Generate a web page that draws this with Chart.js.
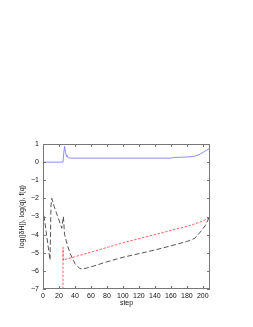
<!DOCTYPE html>
<html>
<head>
<meta charset="utf-8">
<script src="https://cdn.jsdelivr.net/npm/chart.js@4"></script>
<style>
  html, body { margin: 0; padding: 0; background: #fff; }
  #wrap { width: 253px; height: 327px; }
</style>
</head>
<body>
<div id="wrap"><canvas id="c" width="253" height="327"></canvas></div>
<script>
// values
const blueSteps = [0, 25, 26, 27, 28, 29, 30, 32, 35, 40, 60, 100, 140, 160, 165, 180, 190, 197, 202, 207, 209];
const blueVals  = [0, 0, 0.5, 0.87, 0.6, 0.38, 0.3, 0.24, 0.22, 0.22, 0.22, 0.22, 0.22, 0.22, 0.26, 0.28, 0.33, 0.45, 0.58, 0.72, 0.78];

const blackSteps = [0, 2, 4, 6, 8.8, 9.5, 10, 11, 14, 18, 22, 23.5, 25.5, 27, 30, 34, 40, 46, 50, 60, 80, 100, 120, 140, 160, 180, 190, 197, 203, 207, 209];
const blackVals  = [-2.55, -3.2, -3.85, -4.5, -5.4, -3.7, -2.4, -2.0, -2.45, -2.95, -3.45, -3.65, -3.0, -4.0, -4.5, -5.05, -5.6, -5.87, -5.9, -5.78, -5.5, -5.25, -5.05, -4.85, -4.62, -4.38, -4.2, -3.85, -3.5, -3.15, -2.95];

const redSteps = [25, 25, 25.5, 60, 100, 140, 184, 200, 209];
const redVals  = [-7, -4.7, -5.4, -4.97, -4.45, -4.0, -3.5, -3.25, -3.05];

const xTicks = [0, 20, 40, 60, 80, 100, 120, 140, 160, 180, 200];
const yTicks = [-7, -6, -5, -4, -3, -2, -1, 0, 1];

function pts(xs, ys) {
  return xs.map((x, i) => ({ x: x, y: ys[i] }));
}

// gnuplot style frame with ticks pointing inward on all four sides
const framePlugin = {
  id: 'frame',
  afterDraw(chart) {
    const ctx = chart.ctx;
    const a = chart.chartArea;
    const xs = chart.scales.x, ys = chart.scales.y;
    ctx.save();
    ctx.strokeStyle = '#777';
    ctx.lineWidth = 1;
    ctx.strokeRect(a.left + 0.5, a.top + 0.5, a.right - a.left - 1, a.bottom - a.top - 1);
    ctx.beginPath();
    xTicks.forEach(v => {
      const px = Math.round(xs.getPixelForValue(v)) + 0.5;
      ctx.moveTo(px, a.bottom); ctx.lineTo(px, a.bottom - 3);
      ctx.moveTo(px, a.top); ctx.lineTo(px, a.top + 3);
    });
    yTicks.forEach(v => {
      const py = Math.round(ys.getPixelForValue(v)) + 0.5;
      ctx.moveTo(a.left, py); ctx.lineTo(a.left + 3, py);
      ctx.moveTo(a.right, py); ctx.lineTo(a.right - 3, py);
    });
    ctx.stroke();
    ctx.restore();
  }
};

const font = { family: 'Liberation Sans', size: 7 };

new Chart(document.getElementById('c'), {
  type: 'scatter',
  data: {
    datasets: [
      {
        data: pts(blueSteps, blueVals),
        showLine: true, pointRadius: 0, borderWidth: 0.9,
        borderColor: '#7f7fff', tension: 0
      },
      {
        data: pts(blackSteps, blackVals),
        showLine: true, pointRadius: 0, borderWidth: 0.9,
        borderColor: '#444', borderDash: [5, 2.5], tension: 0
      },
      {
        data: pts(redSteps, redVals),
        showLine: true, pointRadius: 0, borderWidth: 0.9,
        borderColor: '#ff5050', borderDash: [2.5, 1.5], tension: 0
      }
    ]
  },
  options: {
    responsive: false,
    animation: false,
    layout: { padding: { left: 0, top: 144, right: 43, bottom: 20 } },
    plugins: { legend: { display: false }, tooltip: { enabled: false } },
    scales: {
      x: {
        type: 'linear', min: 0, max: 209,
        afterBuildTicks: s => { s.ticks = xTicks.map(v => ({ value: v })); },
        afterFit: s => { s.height = 18; },
        grid: { display: false, drawTicks: false }, border: { display: false },
        ticks: { color: '#111', font: font, padding: 3, maxRotation: 0 },
        title: { display: true, text: 'step', color: '#111', font: font, padding: 0 }
      },
      y: {
        type: 'linear', min: -7, max: 1,
        afterBuildTicks: s => { s.ticks = yTicks.map(v => ({ value: v })); },
        afterFit: s => { s.width = 43; },
        grid: { display: false, drawTicks: false }, border: { display: false },
        ticks: { color: '#111', font: font, padding: 4,
                 callback: v => String(v).replace('-', '\u2212') },
        title: { display: true, text: 'log(|\u03b4H|), log(q), f(q)', color: '#111', font: font, padding: 18 }
      }
    }
  },
  plugins: [framePlugin]
});
</script>
</body>
</html>
